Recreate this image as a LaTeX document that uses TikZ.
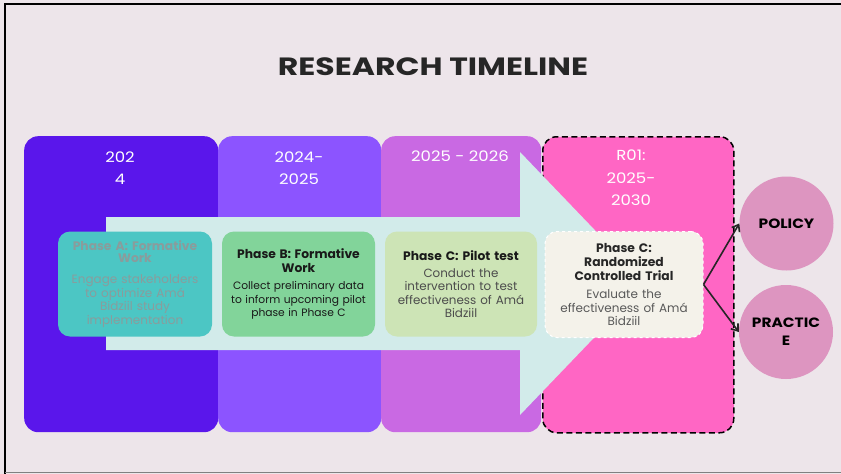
\documentclass[tikz,border=0pt]{standalone}
\usepackage{fontspec}
\setmainfont{Poppins}
\newfontfamily\widefont{Poppins}[FakeStretch=1.14]
\newfontfamily\titlefont{Poppins}[FakeStretch=1.26]
\usetikzlibrary{positioning,arrows.meta}
\definecolor{bgpaper}{HTML}{EDE5EA}
\definecolor{colA}{HTML}{5A16EB}
\definecolor{colB}{HTML}{8C54FF}
\definecolor{colC}{HTML}{C969E3}
\definecolor{colD}{HTML}{FF66C4}
\definecolor{arrowbg}{HTML}{D2EBEA}
\definecolor{boxA}{HTML}{4CC6C4}
\definecolor{boxB}{HTML}{82D49A}
\definecolor{boxC}{HTML}{CDE4B6}
\definecolor{boxD}{HTML}{F4F2EA}
\definecolor{outcol}{HTML}{DD95C0}
\definecolor{fadetxt}{HTML}{8A9C9C}
\newcommand{\phtitle}[2][.]{{\color{#1}\bfseries\fontsize{12.3}{13.8}\selectfont #2\par}}
\tikzstyle{yearcol}=[rounded corners=14pt,inner sep=0,anchor=north west,minimum height=296pt]
\tikzstyle{yeartxt}=[text=white,align=center,font=\widefont\fontsize{14.5}{22.5}\selectfont]
\tikzstyle{phasebox}=[rounded corners=12pt,inner sep=0,minimum width=154pt,minimum height=105pt,text width=150pt,align=center]
\tikzstyle{outc}=[circle,fill=outcol,minimum size=94pt,inner sep=0,align=center,font=\widefont\bfseries\fontsize{13.5}{18}\selectfont]
\tikzstyle{fork}=[draw=black!85,line width=1.6pt,-{Straight Barb[length=6pt,width=9pt]}]

\begin{document}
\begin{tikzpicture}[x=1pt,y=-1pt]
  \useasboundingbox (0,0) rectangle (841,474);
  \fill[bgpaper] (0,0) rectangle (841,474);
  \draw[black,line width=2pt] (5,474) -- (5,4) -- (841,4);
  \draw[gray,line width=1pt] (5,472.5) -- (841,472.5);

  \node[font=\titlefont\bfseries\fontsize{25}{27}\selectfont,text=black!85] (ttl) at (433,67) {RESEARCH TIMELINE};

  % year columns
  \node[yearcol,fill=colA,minimum width=194pt] (c1) at (24,136) {};
  \node[yearcol,fill=colB,minimum width=163pt] (c2) at (218,136) {};
  \node[yearcol,fill=colC,minimum width=160pt] (c3) at (381,136) {};
  \node[yearcol,fill=colD,draw=black,line width=1.5pt,dash pattern=on 6pt off 3.5pt,minimum width=191pt] (c4) at (542,136) {};
  \node[yeartxt] (y1) at (120,168) {202\\4};
  \node[yeartxt] (y2) at (299,168) {2024-\\2025};
  \node[yeartxt] (y3) at (460,156) {2025 - 2026};
  \node[yeartxt] (y4) at (631,178) {R01:\\2025-\\2030};

  % big arrow
  \fill[arrowbg] (106,217) -- (520,217) -- (520,152) -- (646,283.5) -- (520,415) -- (520,350) -- (106,350) -- cycle;

  % phases
  \node[phasebox,fill=boxA,text=fadetxt,font=\fontsize{12}{13.5}\selectfont] (pa) at (135,284)
    {\phtitle{Phase A: Formative\\[-2pt]Work}\vspace{8pt}Engage stakeholders\\to optimize Amá\\Bidziil study\\implementation};
  \node[phasebox,fill=boxB,minimum width=153pt,text=black!90,font=\fontsize{10.7}{13.5}\selectfont] (pb) at (298.5,284)
    {\phtitle{Phase B: Formative\\Work}\vspace{4pt}Collect preliminary data\\to inform upcoming pilot\\phase in Phase C};
  \node[phasebox,fill=boxC,minimum width=152pt,text=black!70,font=\fontsize{11.9}{13.3}\selectfont] (pc) at (461,284)
    {\phtitle[black!90]{Phase C: Pilot test}\vspace{4pt}Conduct the\\intervention to test\\effectiveness of Amá\\Bidziil};
  \node[phasebox,fill=boxD,draw=white,dashed,line width=1pt,minimum width=158pt,minimum height=106pt,text=black!65,font=\fontsize{12}{13.5}\selectfont] (pd) at (624,284.5)
    {\phtitle[black!85]{Phase C:\\Randomized\\Controlled Trial}\vspace{5pt}Evaluate the\\effectiveness of Amá\\Bidziil};

  % outcomes
  \node[outc] (pol) at (786.5,223.5) {POLICY};
  \node[outc] (prc) at (786,332) {PRACTIC\\E};
  \draw[fork] (pd.east) -- (pol.west);
  \draw[fork] (pd.east) -- (prc.west);
\end{tikzpicture}
\end{document}
